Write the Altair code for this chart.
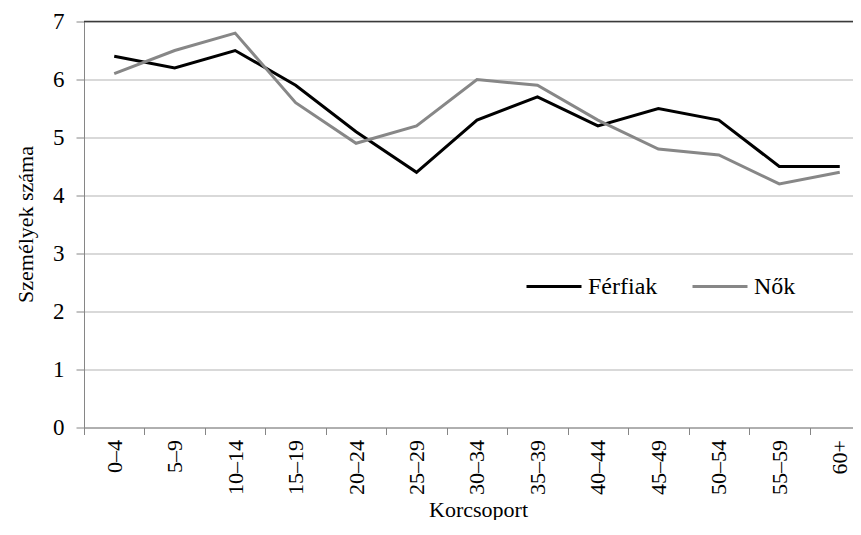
import json
import altair as alt
import pandas as pd

categories = ["0–4", "5–9", "10–14", "15–19", "20–24", "25–29", "30–34",
              "35–39", "40–44", "45–49", "50–54", "55–59", "60+"]
ferfiak = [6.4, 6.2, 6.5, 5.9, 5.1, 4.4, 5.3, 5.7, 5.2, 5.5, 5.3, 4.5, 4.5]
nok = [6.1, 6.5, 6.8, 5.6, 4.9, 5.2, 6.0, 5.9, 5.3, 4.8, 4.7, 4.2, 4.4]
series = ["Férfiak", "Nők"]
colors = ["#000000", "#878787"]
y_ticks = [0, 1, 2, 3, 4, 5, 6, 7]
y_top = [7]

rows = []
for i, c in enumerate(categories):
    rows.append({"idx": i, "cat": c, "nem": series[0], "v": ferfiak[i]})
    rows.append({"idx": i, "cat": c, "nem": series[1], "v": nok[i]})
df = pd.DataFrame(rows)
top_df = pd.DataFrame({"v": y_top})

W = 769
H = 406
STEP = 60.46
x_domain = [-0.5, -0.5 + W / STEP]
step = W / (x_domain[1] - x_domain[0])
FONT = "'Times New Roman', 'Liberation Serif', Tinos, 'DejaVu Serif', serif"

label_expr = json.dumps(categories, ensure_ascii=False) + "[datum.value]"

x_enc = alt.X(
    "idx:Q",
    scale=alt.Scale(domain=x_domain, nice=False, zero=False),
    axis=alt.Axis(
        values=list(range(len(categories))),
        labelExpr=label_expr,
        tickOffset=-step / 2,
        labelOffset=step / 2,
        grid=False,
        labelAngle=-90,
        labelAlign="right",
        labelBaseline="middle",
        labelFlush=False,
        labelOverlap=False,
        tickSize=7,
        labelPadding=5,
        labelFont=FONT,
        labelFontSize=22,
        labelColor="black",
        domainColor="#868686",
        tickColor="#868686",
        title="Korcsoport",
        titleFont=FONT,
        titleFontSize=22,
        titleFontWeight="normal",
        titleColor="black",
        titleX=394,
        titleY=88.5,
        titleBaseline="alphabetic",
        titleAlign="center",
    ),
)

y_enc = alt.Y(
    "v:Q",
    scale=alt.Scale(domain=[0, 7], nice=False, zero=True),
    axis=alt.Axis(
        values=y_ticks,
        format="d",
        grid=True,
        gridColor="#b3b3b3",
        tickSize=8,
        tickColor="#868686",
        domainColor="#868686",
        labelFont=FONT,
        labelFontSize=23,
        labelColor="black",
        labelPadding=12,
        title="Személyek száma",
        titleFont=FONT,
        titleFontSize=22,
        titleFontWeight="normal",
        titleColor="black",
        titleX=-52,
        titleY=202.5,
        titleBaseline="alphabetic",
        titleAlign="center",
        titleAngle=270,
    ),
)

lines = alt.Chart(df).mark_line(strokeWidth=3).encode(
    x=x_enc,
    y=y_enc,
    color=alt.Color(
        "nem:N",
        scale=alt.Scale(domain=series, range=colors),
        legend=alt.Legend(
            orient="none",
            legendX=441,
            legendY=236,
            direction="horizontal",
            title=None,
            symbolType="stroke",
            symbolSize=3025,
            symbolStrokeWidth=3,
            labelFontSize=24,
            labelFont=FONT,
            labelColor="black",
            columnPadding=28,
            labelOffset=5,
            padding=0,
        ),
    ),
)

top_rule = alt.Chart(top_df).mark_rule(color="#3a3a3a", strokeWidth=1.5).encode(
    y=alt.Y("v:Q")
)

chart = (
    alt.layer(top_rule, lines)
    .properties(
        width=W,
        height=H,
        autosize=alt.AutoSizeParams(type="none"),
        padding={"left": 76, "top": 13.5, "right": 0, "bottom": 92.5},
    )
    .configure_view(stroke=None)
    .configure_axis(labelFont=FONT, titleFont=FONT, labelColor="black", titleColor="black")
    .configure_legend(labelFont=FONT)
)

chart.save("out.html", embed_options={"renderer": "svg", "actions": False})
